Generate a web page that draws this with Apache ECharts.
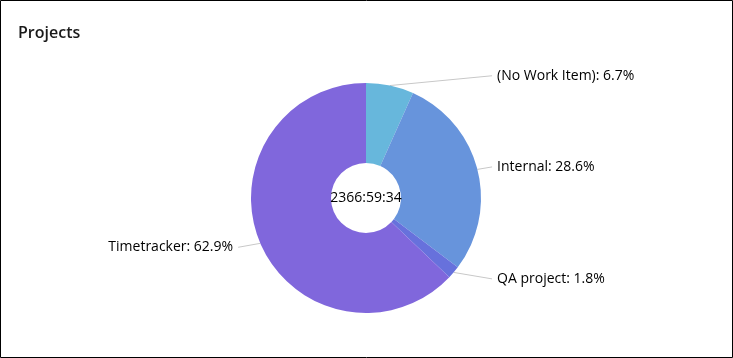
<!DOCTYPE html>
<html>
<head>
<meta charset="utf-8">
<script src="https://cdn.jsdelivr.net/npm/echarts@6/dist/echarts.min.js"></script>
<style>
html,body{margin:0;padding:0;background:#fff;}
#chart{width:733px;height:358px;}
</style>
</head>
<body>
<div id="chart"></div>
<script>
var categories = ['(No Work Item)', 'Internal', 'QA project', 'Timetracker'];
var percents = [6.7, 28.6, 1.8, 62.9];
var colors = ['#67b7dc', '#6794dc', '#6771dc', '#8067dc'];
var totalLabel = '2366:59:34';
var titleText = 'Projects';

var center = [366, 198];
var chart = echarts.init(document.getElementById('chart'));
var fontFamily = '"Open Sans", "Noto Sans", sans-serif';

chart.setOption({
  animation: false,
  title: {
    text: titleText,
    left: 13,
    top: 20,
    textStyle: {fontFamily: fontFamily, fontSize: 16, fontWeight: 600, color: '#1a1a1a'}
  },
  graphic: [
    {type: 'rect', shape: {x: 0.5, y: 0.5, width: 732, height: 357}, style: {fill: 'none', stroke: '#000', lineWidth: 1}, z: 100},
    {type: 'text', x: center[0], y: center[1], z: 100,
     style: {text: totalLabel, textAlign: 'center', textVerticalAlign: 'middle', fontFamily: fontFamily, fontSize: 14, fill: '#000'}}
  ],
  series: [{
    type: 'pie',
    center: center,
    radius: [35, 115],
    startAngle: 90,
    clockwise: true,
    avoidLabelOverlap: true,
    data: categories.map(function (c, i) {
      var d = {name: c, value: percents[i], itemStyle: {color: colors[i]}};
      if (c === 'Timetracker') d.labelLine = {length2: 13};
      return d;
    }),
    label: {
      formatter: function (p) { return p.name + ': ' + p.value.toFixed(1) + '%'; },
      fontFamily: fontFamily,
      fontSize: 14,
      color: '#000',
      alignTo: 'labelLine',
      distanceToLabelLine: 5
    },
    labelLine: {length: 10, length2: 5, lineStyle: {color: '#c8c8c8', width: 1}},
    labelLayout: function (params) {
      var pts = params.labelLinePoints;
      if (!pts) return {};
      pts[1] = [pts[0][0], pts[0][1]];
      return {labelLinePoints: pts};
    },
    emphasis: {disabled: true}
  }]
});
</script>
</body>
</html>
